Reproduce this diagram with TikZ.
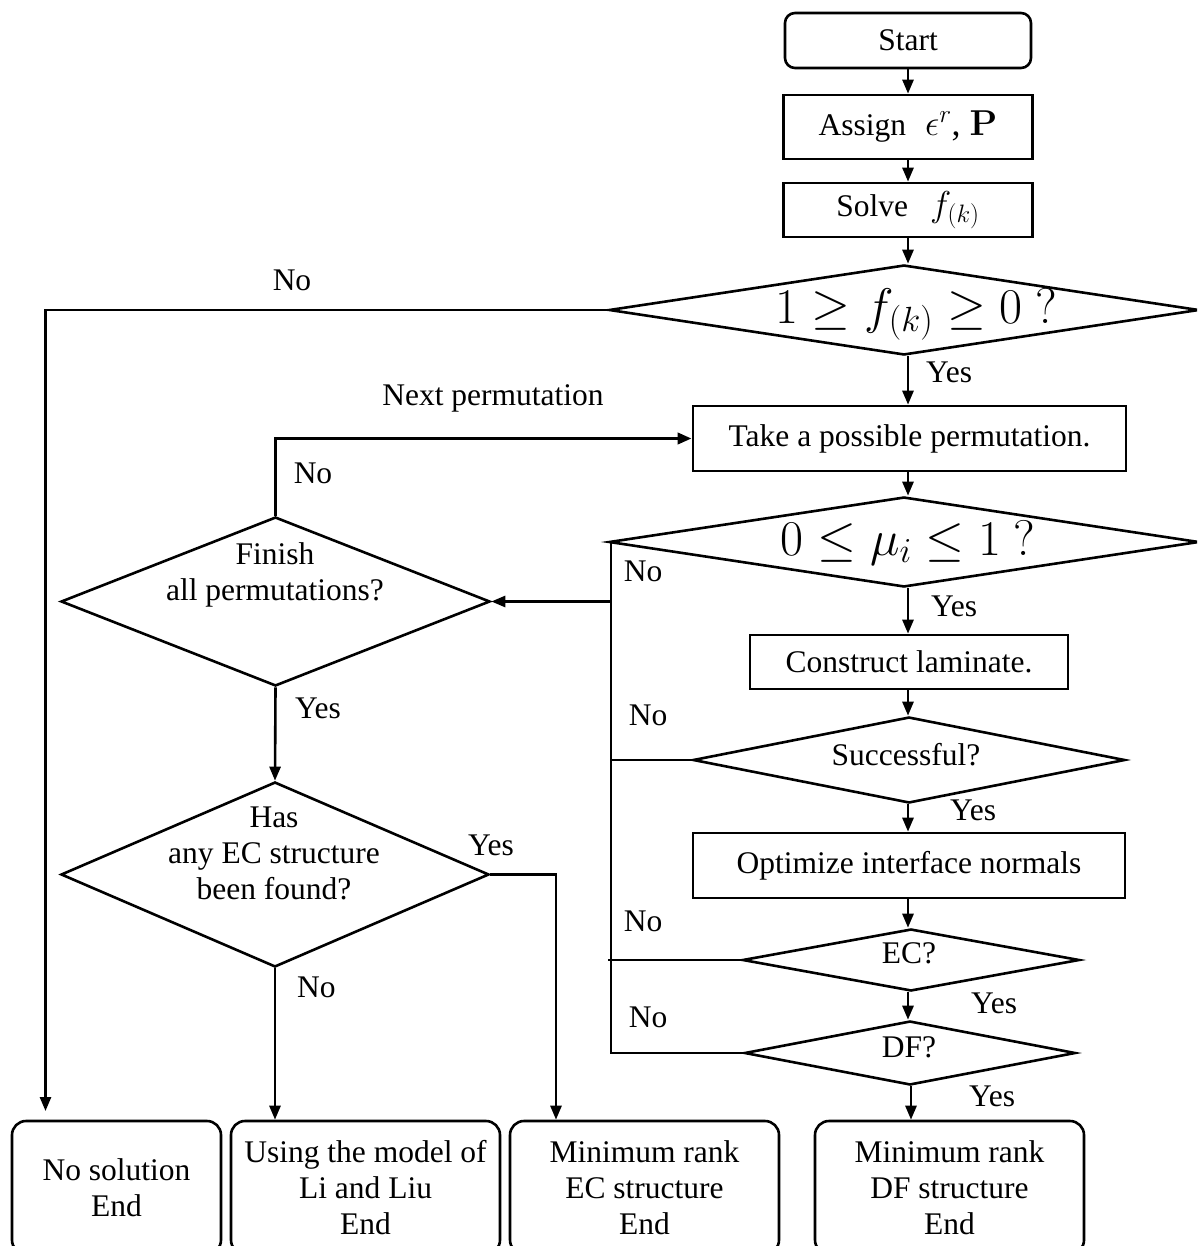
\RequirePackage{fix-cm}
\documentclass[tikz,border=0pt]{standalone}
\usepackage[no-math]{fontspec}
\setmainfont{Liberation Serif}
\usetikzlibrary{shapes.geometric,arrows.meta}
\newcommand{\bmath}[1]{{\fontsize{36}{40}\selectfont #1}}
\begin{document}
\begin{tikzpicture}[x=1pt,y=-1pt,
  every node/.style={font=\fontsize{31.5}{36}\selectfont},
  sbox/.style={draw,line width=2.6pt,rectangle,inner sep=0pt,align=center},
  rbox/.style={sbox,rounded corners=14pt},
  dia/.style={draw,line width=2.6pt,diamond,inner sep=0pt},
  lbl/.style={inner sep=0pt,align=center},
  bigm/.style={inner sep=0pt,font=\fontsize{50}{54}\selectfont},
  ln/.style={line width=2.6pt},
  arr/.style={line width=2.6pt,-{Triangle[length=14pt,width=11pt]}}]
\useasboundingbox (0,0) rectangle (1197,1246);
\clip (0,0) rectangle (1197,1246);
\coordinate (cx) at (908,0);
\coordinate (bus) at (611,0);
% central column
\node[rbox,rounded corners=10pt,minimum width=246pt,minimum height=55pt] (start) at (908,40.5) {Start};
\node[sbox,minimum width=249pt,minimum height=64pt] (assign) at (908,127) {Assign\hspace{0.6em}\bmath{$\epsilon^r$, $\mathbf{P}$}};
\node[sbox,minimum width=249pt,minimum height=54pt] (solve) at (908,210) {Solve\hspace{0.7em}\bmath{$f_{(k)}$}};
\node[dia,minimum width=590pt,minimum height=90pt] (d1) at (904,310) {};
\node[bigm,anchor=base] (d1t) at (916,323) {$1\geq f_{(k)}\geq 0\ ?$};
\node[sbox,minimum width=433pt,minimum height=65pt] (take) at (909.5,438.5) {Take a possible permutation.};
\node[dia,minimum width=590pt,minimum height=90pt] (d2) at (904,542) {};
\node[bigm,anchor=base] (d2t) at (908,555) {$0\leq \mu_i\leq 1\ ?$};
\node[sbox,minimum width=318pt,minimum height=54pt] (construct) at (909,662) {Construct laminate.};
\node[dia,minimum width=432pt,minimum height=86pt] (d3) at (909,760) {};
\node[lbl] (d3t) at (906,755) {Successful?};
\node[sbox,minimum width=432pt,minimum height=65pt] (optimize) at (909,865.5) {Optimize interface normals};
\node[dia,minimum width=337pt,minimum height=62pt] (d4) at (911,960) {};
\node[lbl] (d4t) at (909,953) {EC?};
\node[dia,minimum width=331pt,minimum height=64pt] (d5) at (910,1053) {};
\node[lbl] (d5t) at (909,1047) {DF?};
% left column
\node[dia,minimum width=429pt,minimum height=169pt] (d6) at (275.5,601.5) {};
\node[lbl] (d6t) at (275,575) {Finish\\all permutations?};
\node[dia,minimum width=428pt,minimum height=185pt] (d7) at (275,874.5) {};
\node[lbl] (d7t) at (274,853) {Has\\any EC structure\\been found?};
% end boxes
\node[rbox,minimum width=209pt,minimum height=133pt] (b1) at (116.5,1187.5) {No solution\\End};
\node[rbox,minimum width=269pt,minimum height=133pt] (b2) at (365.5,1187.5) {Using the model of\\Li and Liu\\End};
\node[rbox,minimum width=269pt,minimum height=133pt] (b3) at (644.5,1187.5) {Minimum rank\\EC structure\\End};
\node[rbox,minimum width=269pt,minimum height=133pt] (b4) at (949.5,1187.5) {Minimum rank\\DF structure\\End};
% labels
\node[lbl] (l1) at (292,280) {No};
\node[lbl,anchor=west] (l2) at (926,372) {Yes};
\node[lbl] (l3) at (493,398) {Next permutation};
\node[lbl] (l4) at (313,473) {No};
\node[lbl] (l5) at (643,571) {No};
\node[lbl,anchor=west] (l6) at (931,606) {Yes};
\node[lbl] (l7) at (318,708) {Yes};
\node[lbl] (l8) at (648,715) {No};
\node[lbl,anchor=west] (l9) at (950,810) {Yes};
\node[lbl] (l10) at (491,845) {Yes};
\node[lbl] (l11) at (643,921) {No};
\node[lbl,anchor=west] (l12) at (297,987) {No};
\node[lbl,anchor=west] (l13) at (971,1003) {Yes};
\node[lbl] (l14) at (648,1017) {No};
\node[lbl,anchor=west] (l15) at (969,1096) {Yes};
% connectors central
\draw[arr] (cx |- start.south) -- (cx |- assign.north);
\draw[arr] (cx |- assign.south) -- (cx |- solve.north);
\draw[arr] (cx |- solve.south) -- (cx |- d1.north);
\draw[arr] (cx |- d1.south) -- (cx |- take.north);
\draw[arr] (cx |- take.south) -- (cx |- d2.north);
\draw[arr] (cx |- d2.south) -- (cx |- construct.north);
\draw[arr] (cx |- construct.south) -- (cx |- d3.north);
\draw[arr] (cx |- d3.south) -- (cx |- optimize.north);
\draw[arr] (cx |- optimize.south) -- (cx |- d4.north);
\draw[arr] (cx |- d4.south) -- (cx |- d5.north);
\draw[arr] ([xshift=3pt]cx |- d5.south) -- ([xshift=3pt]cx |- b4.north);
% No bus
\draw[ln] (d2.west) -- (bus |- d2.west) -- (bus |- d5.west) -- (d5.west);
\draw[ln] (d3.west) -- (bus |- d3.west);
\draw[ln] (d4.west) -- ([xshift=-3pt]bus |- d4.west);
\draw[arr] (bus |- d6.east) -- (d6.east);
% left part
\coordinate (e1) at (45.5,1111);
\draw[arr] (d1.west) -| (e1);
\draw[arr,line width=3.6pt] (d6.north) |- (take.west);
\draw[arr] (d6.south) -- (d7.north);
\draw[arr] (d7.south) -- (d7.south |- b2.north);
\draw[arr] (d7.east) -| ([xshift=-88.5pt]b3.north);
\end{tikzpicture}
\end{document}
